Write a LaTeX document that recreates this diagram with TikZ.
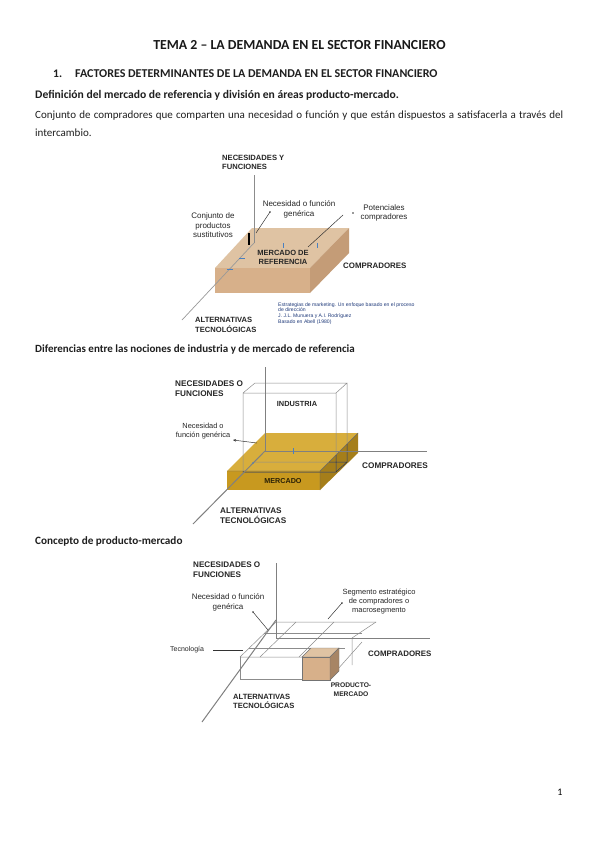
\documentclass[tikz,border=0pt]{standalone}
\usepackage{fontspec}
\setmainfont{Carlito}
\newfontfamily\arialf{Liberation Sans}
\usetikzlibrary{arrows.meta}
\definecolor{tanT}{HTML}{DFC3A3}
\definecolor{tanF}{HTML}{D7B08A}
\definecolor{tanR}{HTML}{C49C77}
\definecolor{goldT}{HTML}{D8AE3C}
\definecolor{goldF}{HTML}{C8991F}
\definecolor{goldR}{HTML}{A57E1A}
\definecolor{citeblue}{HTML}{1F3A7A}
\definecolor{tickblue}{HTML}{4A80C0}
\begin{document}
\begin{tikzpicture}[x=1pt,y=-1pt,
  doc/.style={inner sep=0pt, anchor=west, font=\fontsize{11}{13}\selectfont, text=black!88},
  docb/.style={doc, font=\bfseries\fontsize{11.6}{13}\selectfont},
  caplbl/.style={inner sep=0pt, anchor=west, align=left, font=\arialf\fontsize{7.6}{9.6}\selectfont, text=black!85},
  capb/.style={caplbl, font=\arialf\bfseries\fontsize{7.6}{9.6}\selectfont},
  capbig/.style={caplbl, font=\arialf\bfseries\fontsize{8.2}{9.6}\selectfont},
  sml/.style={inner sep=0pt, align=center, font=\arialf\fontsize{8}{9.4}\selectfont, text=black!85},
  axisline/.style={draw=black!50, line width=1pt},
  thinline/.style={draw=black!45, line width=0.5pt},
  leader/.style={draw=black!80, line width=0.5pt},
  tickmark/.style={draw=tickblue, line width=0.5pt},
  leaddot/.style={circle, fill=black!80, inner sep=0pt, minimum size=1.6pt}]
\fill[white] (0,0) rectangle (599,848);
\useasboundingbox (0,0) rectangle (599,848);

% ---------------- page text ----------------
\node[inner sep=0pt, font=\bfseries\fontsize{13.8}{16}\selectfont, text=black!90] (title) at (299.5,45) {TEMA 2 -- LA DEMANDA EN EL SECTOR FINANCIERO};
\node[docb] (num) at (53,74) {1.};
\node[docb, font=\bfseries\fontsize{12}{14}\selectfont] (head) at (75,74) {FACTORES DETERMINANTES DE LA DEMANDA EN EL SECTOR FINANCIERO};
\node[docb] (def) at (35,95) {Definición del mercado de referencia y división en áreas producto-mercado.};
\node[doc] (par1) at (35,116) {\makebox[528pt][s]{Conjunto de compradores que comparten una necesidad o función y que están dispuestos a satisfacerla a través del}};
\node[doc] (par2) at (35,133) {intercambio.};
\node[docb, font=\bfseries\fontsize{11}{13}\selectfont] (dif) at (35,350) {Diferencias entre las nociones de industria y de mercado de referencia};
\node[docb, font=\bfseries\fontsize{11.2}{13}\selectfont] (con) at (35,541) {Concepto de producto-mercado};
\node[inner sep=0pt, font=\fontsize{10}{12}\selectfont] (pg) at (560,792) {1};

% ---------------- figure 1 ----------------
\coordinate (a1) at (215,268); \coordinate (a2) at (310,268);
\coordinate (a3) at (349,228); \coordinate (a4) at (252,228);
\coordinate (a5) at (215,293); \coordinate (a6) at (310,293);
\coordinate (a7) at (349,253);
\fill[tanT] (a1)--(a2)--(a3)--(a4)--cycle;
\fill[tanF] (a1)--(a2)--(a6)--(a5)--cycle;
\fill[tanR] (a2)--(a3)--(a7)--(a6)--cycle;
\coordinate (o1) at (254,243); \coordinate (v1) at (254,175); \coordinate (d1) at (182,320);
\draw[draw=black!45, line width=0.7pt] (v1) -- (o1);
\draw[draw=black!40, line width=0.7pt] (o1) -- (d1);
\draw[black, line width=1.3pt] (249,233) -- (249,245);
\draw[tickmark] (283,243) -- (283,248);
\draw[tickmark] (317,243) -- (317,248);
\draw[tickmark] (239,258) -- (245,258);
\draw[tickmark] (227,269) -- (233,269);

\node[capb] (nf1) at (222,162.5) {NECESIDADES Y\\FUNCIONES};
\node[sml] (ng1) at (299,209.5) {Necesidad o función\\genérica};
\node[sml] (cp1) at (213,225.5) {Conjunto de\\productos\\sustitutivos};
\node[sml] (pc1) at (384,213) {Potenciales\\compradores};
\node[inner sep=0pt, align=center, font=\arialf\bfseries\fontsize{7.5}{9.2}\selectfont, text=black!85] (mr1) at (283,257.5) {MERCADO DE\\REFERENCIA};
\node[capb, font=\arialf\bfseries\fontsize{7.9}{9.6}\selectfont] (co1) at (343,266) {COMPRADORES};
\node[capb] (al1) at (195,325) {ALTERNATIVAS\\TECNOLÓGICAS};
\node[inner sep=0pt, anchor=west, align=left, font=\arialf\fontsize{5.1}{5.8}\selectfont, text=citeblue] (cit) at (278,313.5) {Estrategias de marketing. Un enfoque basado en el proceso\\de dirección\\J. J.L. Munuera y A.I. Rodríguez\\Basado en Abell (1980)};

\coordinate (l1a) at (270,212); \coordinate (l1b) at (256,233);
\draw[leader] (l1a) -- (l1b);
\node[leaddot] (l1dot) at (l1a) {};
\coordinate (l2a) at (343,215); \coordinate (l2b) at (308,247);
\draw[leader] (l2a) -- (l2b);
\node[leaddot] (l2dot) at (353,213) {};

% ---------------- figure 2 ----------------
\coordinate (g1) at (227,471); \coordinate (g2) at (320,471);
\coordinate (g3) at (358,433); \coordinate (g4) at (265,433);
\coordinate (g5) at (227,490); \coordinate (g6) at (320,490);
\coordinate (g7) at (358,453);
\fill[goldT] (g1)--(g2)--(g3)--(g4)--cycle;
\fill[goldF] (g1)--(g2)--(g6)--(g5)--cycle;
\fill[goldR] (g2)--(g3)--(g7)--(g6)--cycle;
\draw[black!60, line width=0.4pt] (g1)--(g2)--(g3) (g2)--(g6);

% industry cube
\coordinate (c1) at (243,393); \coordinate (c2) at (336,393);
\coordinate (c3) at (336,472); \coordinate (c4) at (243,472);
\coordinate (c5) at (255,383); \coordinate (c6) at (347,383);
\coordinate (c7) at (347,462); \coordinate (c8) at (254,462);
\draw[thinline] (c1)--(c2)--(c3)--(c4)--cycle (c1)--(c5)--(c6)--(c2) (c6)--(c7)--(c3) (c7)--(c8);
\begin{scope}
\clip (g1)--(g2)--(g3)--(g7)--(g6)--(g5)--cycle;
\draw[draw=black!80, line width=0.5pt] (c1)--(c2)--(c3)--(c4)--cycle (c6)--(c7)--(c3) (c7)--(c8);
\end{scope}

\coordinate (o2) at (265,451); \coordinate (v2) at (265,367);
\coordinate (h2) at (427,451); \coordinate (d2) at (193,524);
\draw[axisline] (v2) -- (o2) -- (h2);
\draw[axisline] (o2) -- (d2);
\draw[tickmark] (293,448) -- (293,454);
\fill[tickblue] (253,463) circle (0.9);

\node[capbig] (nf2) at (175,388.5) {NECESIDADES O\\FUNCIONES};
\node[inner sep=0pt, font=\arialf\bfseries\fontsize{7.4}{9}\selectfont, text=black!85] (ind) at (297,404) {INDUSTRIA};
\node[inner sep=0pt, font=\arialf\bfseries\fontsize{7.2}{9}\selectfont, text=black!75!goldR] (mer) at (283,481) {MERCADO};
\node[capbig] (co2) at (362,466) {COMPRADORES};
\node[capbig] (al2) at (220,515.5) {ALTERNATIVAS\\TECNOLÓGICAS};
\node[sml, font=\arialf\fontsize{7.4}{9}\selectfont] (ng2) at (203,431) {Necesidad o\\función genérica};
\coordinate (l3a) at (257,443);
\draw[leader, -{Stealth[length=3pt,width=2.5pt]}] (l3a) -- (233,440);

% ---------------- figure 3 ----------------
\coordinate (s1) at (240,657); \coordinate (s2) at (329,657);
\coordinate (s3) at (376,622); \coordinate (s4) at (276,622);
\coordinate (s5) at (240,679); \coordinate (s6) at (329,679);
\coordinate (s7) at (352,638); \coordinate (s8) at (352,665);
\draw[thinline] (296,622) -- (260,657);
\draw[thinline] (334,622) -- (299,657);
\draw[thinline] (264,633) -- (362,633);
\draw[thinline] (249,648) -- (345,648);
\draw[thinline] (s1)--(s2) (s4)--(s3) (s4)--(s1);
\draw[thinline] (s3)--(s7)--(s8);
\draw[thinline] (s1)--(s5)--(s6);
\draw[thinline] (362,642) -- (s6);
\coordinate (p1) at (302,657); \coordinate (p2) at (330,657);
\coordinate (p3) at (339,648); \coordinate (p4) at (311,648);
\coordinate (p5) at (302,680); \coordinate (p6) at (330,680);
\coordinate (p7) at (339,671);
\fill[tanT, draw=black!55, line width=0.4pt] (p1)--(p2)--(p3)--(p4)--cycle;
\fill[tanF, draw=black!55, line width=0.4pt] (p1)--(p2)--(p6)--(p5)--cycle;
\fill[tanR!85!black, draw=black!55, line width=0.4pt] (p2)--(p3)--(p7)--(p6)--cycle;

\coordinate (o3) at (276,638); \coordinate (v3) at (276,563);
\coordinate (h3) at (430,638); \coordinate (o3d) at (276,620); \coordinate (d3) at (202,722);
\draw[axisline] (v3) -- (o3) -- (h3);
\draw[axisline] (o3d) -- (d3);

\node[capb, font=\arialf\bfseries\fontsize{8.1}{9.6}\selectfont] (nf3) at (193,569.5) {NECESIDADES O\\FUNCIONES};
\node[sml] (ng3) at (228,602.5) {Necesidad o función\\genérica};
\node[sml, font=\arialf\fontsize{7.5}{9}\selectfont] (sg3) at (379,602) {Segmento estratégico\\de compradores o\\macrosegmento};
\node[inner sep=0pt, anchor=west, font=\arialf\fontsize{7}{8}\selectfont, text=black!85] (tec) at (170,650) {Tecnología};
\node[capb, font=\arialf\bfseries\fontsize{7.9}{9.6}\selectfont] (co3) at (368,654) {COMPRADORES};
\node[inner sep=0pt, align=center, font=\arialf\bfseries\fontsize{6.7}{9}\selectfont, text=black!85] (pm3) at (351,689.5) {PRODUCTO-\\MERCADO};
\node[capb] (al3) at (233,701.5) {ALTERNATIVAS\\TECNOLÓGICAS};

\coordinate (l4a) at (253,612); \coordinate (l4b) at (268,630);
\draw[leader] (l4a) -- (l4b);
\node[leaddot] (l4dot) at (l4a) {};
\coordinate (l5a) at (342,603); \coordinate (l5b) at (328,619);
\draw[leader] (l5a) -- (l5b);
\node[leaddot] (l5dot) at (l5a) {};
\coordinate (l6a) at (213,650); \coordinate (l6b) at (243,650);
\draw[leader] (l6a) -- (l6b);
\end{tikzpicture}
\end{document}
